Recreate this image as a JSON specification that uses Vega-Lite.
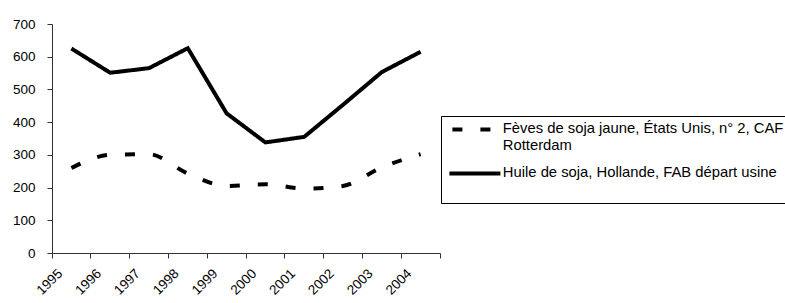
{
  "$schema": "https://vega.github.io/schema/vega-lite/v6.json",
  "width": 388,
  "height": 229,
  "autosize": {"type": "none"},
  "padding": {"left": 52, "top": 24, "right": 345, "bottom": 50},
  "background": "white",
  "config": {
    "view": {"stroke": null},
    "font": "Liberation Sans",
    "axis": {
      "labelFont": "Liberation Sans",
      "labelFontSize": 13.5,
      "labelColor": "black",
      "domainColor": "#333",
      "tickColor": "#333",
      "tickSize": 5,
      "grid": false,
      "title": null
    }
  },
  "data": {
    "values": [
      {"year": "1995", "series": "soy", "value": 260},
      {"year": "1996", "series": "soy", "value": 300},
      {"year": "1997", "series": "soy", "value": 302},
      {"year": "1998", "series": "soy", "value": 243},
      {"year": "1999", "series": "soy", "value": 205},
      {"year": "2000", "series": "soy", "value": 210},
      {"year": "2001", "series": "soy", "value": 197},
      {"year": "2002", "series": "soy", "value": 205},
      {"year": "2003", "series": "soy", "value": 262},
      {"year": "2004", "series": "soy", "value": 302},
      {"year": "1995", "series": "oil", "value": 625},
      {"year": "1996", "series": "oil", "value": 551},
      {"year": "1997", "series": "oil", "value": 565},
      {"year": "1998", "series": "oil", "value": 626},
      {"year": "1999", "series": "oil", "value": 427},
      {"year": "2000", "series": "oil", "value": 338},
      {"year": "2001", "series": "oil", "value": 355},
      {"year": "2002", "series": "oil", "value": 453},
      {"year": "2003", "series": "oil", "value": 553},
      {"year": "2004", "series": "oil", "value": 615}
    ]
  },
  "encoding": {
    "x": {
      "field": "year",
      "type": "ordinal",
      "scale": {"type": "band", "paddingInner": 0, "paddingOuter": 0},
      "axis": {
        "bandPosition": 1,
        "tickExtra": true,
        "labelAngle": -45,
        "labelAlign": "right",
        "labelBaseline": "middle",
        "labelFontSize": 13.5,
        "labelOffset": -11,
        "labelPadding": 13
      }
    },
    "y": {
      "field": "value",
      "type": "quantitative",
      "scale": {"domain": [0, 700], "nice": false, "zero": true},
      "axis": {"values": [0, 100, 200, 300, 400, 500, 600, 700], "labelPadding": 12}
    },
    "strokeDash": {
      "field": "series",
      "type": "nominal",
      "scale": {"domain": ["soy", "oil"], "range": [[10, 18], [1, 0]]},
      "legend": {
        "orient": "none",
        "legendX": 389,
        "legendY": 92,
        "title": " ",
        "titleOrient": "bottom",
        "titleFontSize": 12,
        "titlePadding": 5,
        "strokeColor": "black",
        "padding": 6,
        "symbolType": "M-1,0H9.2",
        "symbolSize": 100,
        "symbolStrokeWidth": 4,
        "symbolStrokeColor": "black",
        "symbolDashOffset": -3,
        "labelFont": "Liberation Sans",
        "labelFontSize": 14.8,
        "labelColor": "black",
        "labelLimit": 500,
        "labelOffset": 41,
        "labelBaseline": "middle",
        "labelLineHeight": 18.5,
        "rowPadding": 12,
        "labelExpr": "datum.label == 'soy' ? ['Fèves de soja jaune, États Unis, n° 2, CAF', 'Rotterdam'] : 'Huile de soja, Hollande, FAB départ usine'"
      }
    }
  },
  "layer": [
    {
      "transform": [{"filter": "datum.series == 'soy'"}],
      "mark": {"type": "line", "color": "black", "strokeWidth": 4, "interpolate": "monotone"}
    },
    {
      "transform": [{"filter": "datum.series == 'oil'"}],
      "mark": {"type": "line", "color": "black", "strokeWidth": 4}
    }
  ]
}
